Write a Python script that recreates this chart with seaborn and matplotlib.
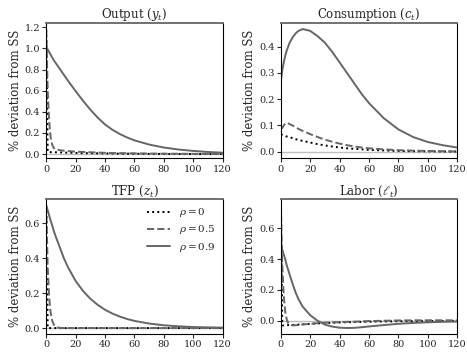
import matplotlib
matplotlib.use("Agg")
import matplotlib.pyplot as plt
import seaborn as sns
import numpy as np

t = [0, 1, 2, 3, 4, 5, 6, 8, 10, 12, 15, 20, 25, 30, 35, 40, 45, 50, 55, 60, 70, 80, 90, 100, 110, 120]

# Output
y_rho0 = [1.17, 0.02, 0.019, 0.018, 0.018, 0.017, 0.017, 0.016, 0.015, 0.014, 0.013, 0.011, 0.009,
          0.008, 0.007, 0.006, 0.005, 0.004, 0.0035, 0.003, 0.002, 0.0015, 0.001, 0.0008, 0.0005, 0.0004]
y_rho05 = [1.18, 0.60, 0.31, 0.16, 0.09, 0.06, 0.045, 0.04, 0.035, 0.032, 0.028, 0.023, 0.02,
           0.017, 0.014, 0.012, 0.01, 0.009, 0.008, 0.007, 0.005, 0.004, 0.003, 0.002, 0.002, 0.001]
y_rho09 = [1.01, 0.99, 0.965, 0.94, 0.915, 0.89, 0.87, 0.83, 0.79, 0.75, 0.69, 0.595, 0.505,
           0.42, 0.345, 0.28, 0.23, 0.19, 0.157, 0.13, 0.09, 0.062, 0.043, 0.03, 0.02, 0.013]

# Consumption
c_rho0 = [0.066, 0.064, 0.062, 0.06, 0.058, 0.056, 0.055, 0.052, 0.048, 0.045, 0.041, 0.035, 0.029,
          0.024, 0.02, 0.016, 0.013, 0.011, 0.009, 0.007, 0.005, 0.003, 0.002, 0.0015, 0.001, 0.0007]
c_rho05 = [0.095, 0.09, 0.1, 0.108, 0.11, 0.108, 0.105, 0.1, 0.093, 0.087, 0.079, 0.067, 0.056,
           0.046, 0.038, 0.031, 0.025, 0.02, 0.016, 0.013, 0.009, 0.006, 0.004, 0.003, 0.002, 0.001]
c_rho09 = [0.27, 0.31, 0.34, 0.365, 0.385, 0.40, 0.415, 0.435, 0.45, 0.46, 0.467, 0.46, 0.44,
           0.415, 0.38, 0.34, 0.30, 0.26, 0.22, 0.185, 0.128, 0.085, 0.056, 0.037, 0.025, 0.016]

# TFP
z_rho0 = [0.70, 0.0, 0.0, 0.0, 0.0, 0.0, 0.0, 0.0, 0.0, 0.0, 0.0, 0.0, 0.0,
          0.0, 0.0, 0.0, 0.0, 0.0, 0.0, 0.0, 0.0, 0.0, 0.0, 0.0, 0.0, 0.0]
z_rho05 = [0.70, 0.35, 0.175, 0.0875, 0.044, 0.022, 0.011, 0.003, 0.0007, 0.0, 0.0, 0.0, 0.0,
           0.0, 0.0, 0.0, 0.0, 0.0, 0.0, 0.0, 0.0, 0.0, 0.0, 0.0, 0.0, 0.0]
z_rho09 = [0.70, 0.675, 0.645, 0.615, 0.59, 0.56, 0.535, 0.49, 0.445, 0.40, 0.345, 0.27, 0.213,
           0.168, 0.133, 0.105, 0.083, 0.066, 0.052, 0.041, 0.026, 0.016, 0.01, 0.006, 0.004, 0.0025]

# Labor
l_rho0 = [0.74, -0.03, -0.03, -0.029, -0.029, -0.028, -0.028, -0.027, -0.026, -0.025, -0.023, -0.02, -0.017,
          -0.015, -0.013, -0.011, -0.0095, -0.008, -0.007, -0.006, -0.0045, -0.003, -0.0025, -0.002, -0.0015, -0.001]
l_rho05 = [0.76, 0.36, 0.16, 0.06, 0.01, -0.015, -0.025, -0.03, -0.029, -0.027, -0.024, -0.02, -0.016,
           -0.013, -0.011, -0.009, -0.007, -0.006, -0.004, -0.002, 0.0, 0.002, 0.003, 0.003, 0.003, 0.003]
l_rho09 = [0.49, 0.46, 0.43, 0.40, 0.36, 0.33, 0.30, 0.24, 0.185, 0.14, 0.09, 0.036, 0.0,
           -0.025, -0.038, -0.045, -0.047, -0.046, -0.042, -0.037, -0.028, -0.02, -0.014, -0.01, -0.007, -0.005]

titles = ['Output ($y_t$)', 'Consumption ($c_t$)', 'TFP ($z_t$)', r'Labor ($\ell_t$)']
panels = [(y_rho0, y_rho05, y_rho09), (c_rho0, c_rho05, c_rho09),
          (z_rho0, z_rho05, z_rho09), (l_rho0, l_rho05, l_rho09)]
yticks = [[0.0, 0.2, 0.4, 0.6, 0.8, 1.0, 1.2], [0.0, 0.1, 0.2, 0.3, 0.4],
          [0.0, 0.2, 0.4, 0.6], [0.0, 0.2, 0.4, 0.6]]
ylims = [(-0.04, 1.24), (-0.025, 0.49), (-0.035, 0.74), (-0.087, 0.79)]
labels = [r'$\rho = 0$', r'$\rho = 0.5$', r'$\rho = 0.9$']
styles = [':', '--', '-']
colors = ['black', '0.4', '0.4']

sns.set_style('ticks')
plt.rcParams['font.family'] = ['DejaVu Serif']
plt.rcParams['mathtext.fontset'] = 'dejavuserif'

fig, axes = plt.subplots(2, 2, figsize=(4.67, 3.54), dpi=100)
fig.subplots_adjust(left=0.099, right=0.979, top=0.935, bottom=0.056, wspace=0.33, hspace=0.30)

for ax, title, series, yt, yl in zip(axes.flat, titles, panels, yticks, ylims):
    ax.axhline(0, color='0.75', linewidth=1.0, zorder=1)
    for vals, lab, ls, col in zip(series, labels, styles, colors):
        sns.lineplot(x=t, y=vals, ax=ax, color=col, linestyle=ls, linewidth=1.4, label=lab)
    ax.set_xlim(0, 120)
    ax.set_ylim(*yl)
    ax.set_xticks([0, 20, 40, 60, 80, 100, 120])
    ax.set_yticks(yt)
    ax.set_yticklabels([f'{v:.1f}' for v in yt])
    ax.set_title(title, fontsize=8.5, pad=3)
    ax.set_ylabel('% deviation from SS', fontsize=8.5, labelpad=2)
    ax.tick_params(labelsize=7, length=3, width=0.8, pad=1.5)
    for s in ['left', 'right', 'bottom']:
        ax.spines[s].set_color('black')
        ax.spines[s].set_linewidth(0.8)
    ax.spines['top'].set_color('0.4')
    ax.spines['top'].set_linewidth(1.3)
    if ax is axes[1, 0]:
        ax.legend(loc='upper right', frameon=False, fontsize=7.5, handlelength=2.2,
                  borderaxespad=0.3, labelspacing=0.4)
    else:
        ax.get_legend().remove()

fig.savefig('out.png', dpi=100, facecolor='white')
